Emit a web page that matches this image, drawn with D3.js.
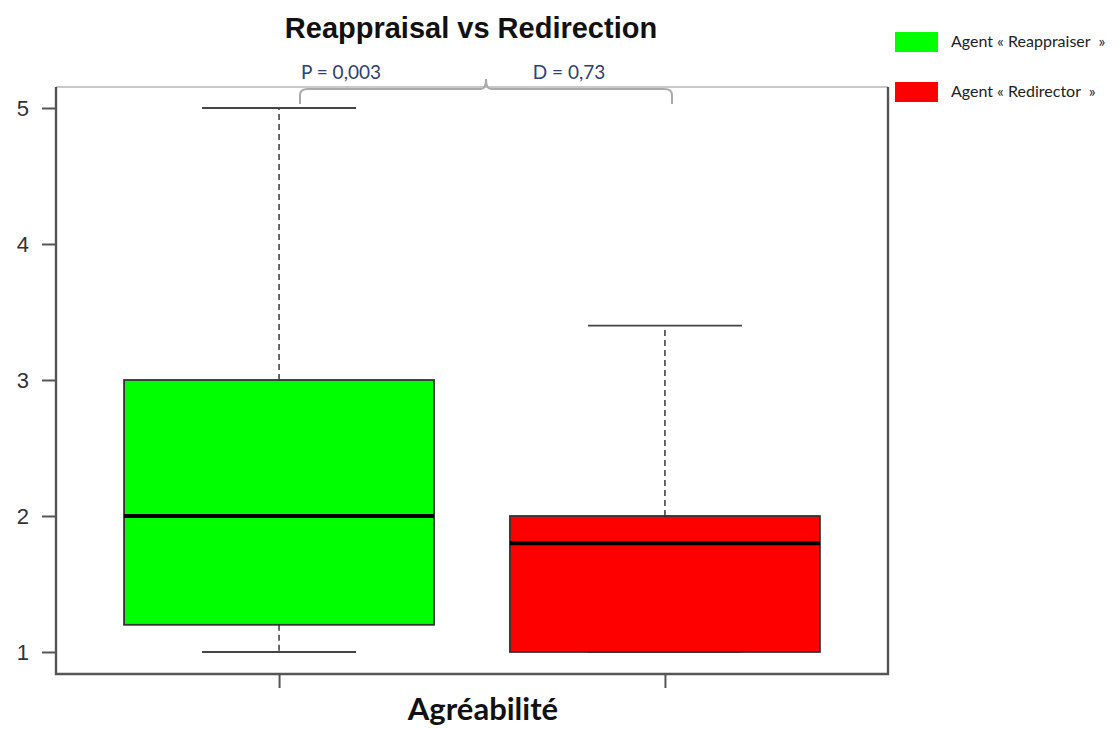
<!DOCTYPE html>
<html><head><meta charset="utf-8">
<script src="https://cdn.jsdelivr.net/npm/d3@7"></script>
<style>body{margin:0;background:#fff}svg{display:block}</style>
</head><body>
<svg id="c" width="1119" height="729"></svg>
<script>
const categories = ["Agent « Reappraiser  »", "Agent « Redirector  »"];
const colors = ["#00ff00", "#ff0000"];
const whiskerLow = [1, 1];
const q1 = [1.2, 1];
const median = [2, 1.8];
const q3 = [3, 2];
const whiskerHigh = [5, 3.4];
const yTicks = [1, 2, 3, 4, 5];
const titleText = "Reappraisal vs Redirection";
const xLabel = "Agréabilité";
const annotations = ["P = 0,003", "D = 0,73"];

const svg = d3.select("#c");
const L = 56, R = 888, T = 87, B = 674;
const x = d3.scalePoint().domain(categories).range([L, R]).padding(0.578);
const y = d3.scaleLinear().domain([1, 5]).range([652, 108]);
const boxHalf = 155, capHalf = 77;

// title
svg.append("text").attr("x", 471).attr("y", 38).attr("text-anchor", "middle")
  .attr("font-family", "Liberation Sans, Arial, sans-serif").attr("font-weight", "bold")
  .attr("font-size", 29).attr("fill", "#111").text(titleText);

// boxes
categories.forEach((c, i) => {
  const cx = x(c);
  const g = svg.append("g");
  g.append("line").attr("x1", cx).attr("x2", cx).attr("y1", y(q3[i])).attr("y2", y(whiskerHigh[i]))
    .attr("stroke", "#444").attr("stroke-width", 1.6).attr("stroke-dasharray", "6,4");
  g.append("line").attr("x1", cx).attr("x2", cx).attr("y1", y(q1[i])).attr("y2", y(whiskerLow[i]))
    .attr("stroke", "#444").attr("stroke-width", 1.6).attr("stroke-dasharray", "6,4");
  g.append("line").attr("x1", cx - capHalf).attr("x2", cx + capHalf).attr("y1", y(whiskerHigh[i])).attr("y2", y(whiskerHigh[i]))
    .attr("stroke", "#444").attr("stroke-width", 1.8);
  g.append("line").attr("x1", cx - capHalf).attr("x2", cx + capHalf).attr("y1", y(whiskerLow[i])).attr("y2", y(whiskerLow[i]))
    .attr("stroke", "#444").attr("stroke-width", 1.8);
  g.append("rect").attr("x", cx - boxHalf).attr("width", boxHalf * 2)
    .attr("y", y(q3[i])).attr("height", y(q1[i]) - y(q3[i]))
    .attr("fill", colors[i]).attr("stroke", "#333").attr("stroke-width", 1.8);
  g.append("line").attr("x1", cx - boxHalf).attr("x2", cx + boxHalf).attr("y1", y(median[i])).attr("y2", y(median[i]))
    .attr("stroke", "#000").attr("stroke-width", 4);
});

// frame
svg.append("line").attr("x1", L).attr("x2", R).attr("y1", T).attr("y2", T).attr("stroke", "#c8c8c8").attr("stroke-width", 2);
svg.append("path").attr("d", `M${L},${T}V${B}H${R}V${T}`).attr("fill", "none").attr("stroke", "#555").attr("stroke-width", 2.4);

// y axis
const ya = svg.append("g").attr("transform", `translate(${L},0)`)
  .call(d3.axisLeft(y).tickValues(yTicks).tickSize(14).tickPadding(13).tickFormat(d3.format("d")));
ya.select(".domain").remove();
ya.selectAll("line").attr("stroke", "#555").attr("stroke-width", 2);
ya.selectAll("text").attr("font-family", "Liberation Sans, Arial, sans-serif").attr("font-size", 22).attr("fill", "#333").attr("dy", "0.36em");

// x axis
const xa = svg.append("g").attr("transform", `translate(0,${B})`)
  .call(d3.axisBottom(x).tickSize(14).tickFormat(""));
xa.select(".domain").remove();
xa.selectAll("line").attr("stroke", "#555").attr("stroke-width", 2);

svg.append("text").attr("x", 483).attr("y", 720).attr("text-anchor", "middle")
  .attr("font-family", "Lato, Open Sans, sans-serif").attr("font-weight", "bold")
  .attr("font-size", 31).attr("fill", "#111").text(xLabel);

// annotation brace
const bx0 = 300, bx1 = 672, bm = 486, by = 89;
svg.append("path").attr("d",
  `M${bx0},104 V95 Q${bx0},${by} ${bx0 + 8},${by} H${bm - 5} Q${bm},${by} ${bm},${by - 10} Q${bm},${by} ${bm + 5},${by} H${bx1 - 8} Q${bx1},${by} ${bx1},95 V104`)
  .attr("fill", "none").attr("stroke", "#aaa").attr("stroke-width", 2);
svg.append("text").attr("x", 341).attr("y", 79).attr("text-anchor", "middle")
  .attr("font-family", "Lato, Open Sans, sans-serif").attr("font-size", 19).attr("fill", "#2f3f6f").text(annotations[0]);
svg.append("text").attr("x", 569).attr("y", 79).attr("text-anchor", "middle")
  .attr("font-family", "Lato, Open Sans, sans-serif").attr("font-size", 19).attr("fill", "#2f3f6f").text(annotations[1]);

// legend
const legY = [32, 82];
categories.forEach((c, i) => {
  svg.append("rect").attr("x", 895).attr("y", legY[i]).attr("width", 43).attr("height", 20).attr("fill", colors[i]);
  svg.append("text").attr("x", 951).attr("y", legY[i] + 15).attr("font-family", "Lato, Open Sans, sans-serif")
    .attr("font-size", 16).attr("fill", "#222").style("white-space", "pre").text(c);
});
</script>
</body></html>
